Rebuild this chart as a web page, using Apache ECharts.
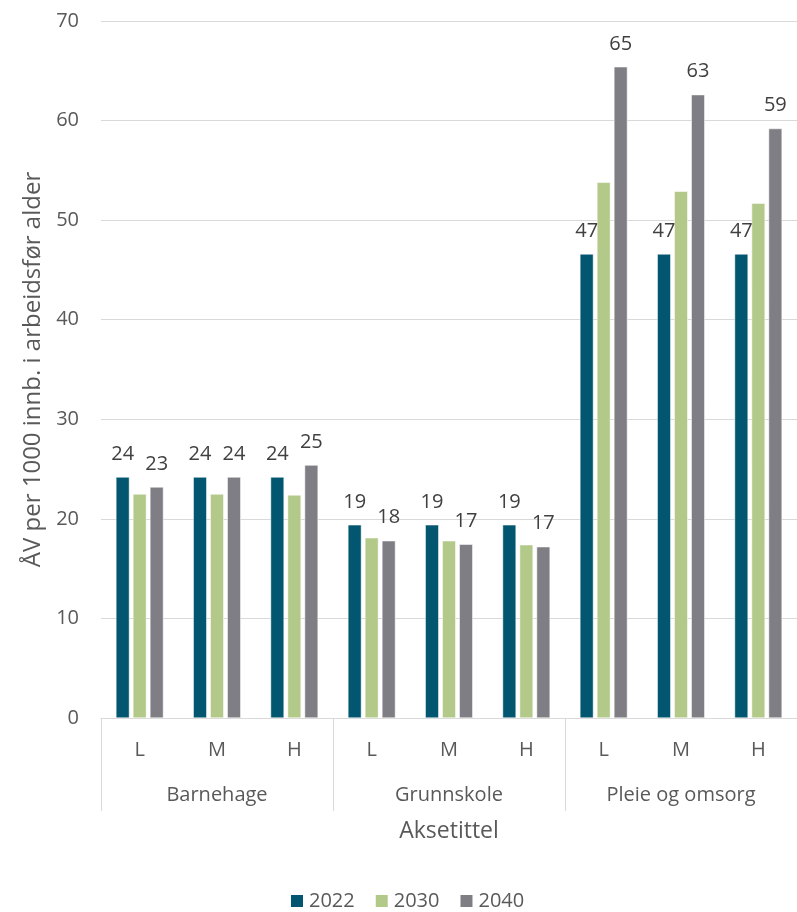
<!DOCTYPE html>
<html><head><meta charset="utf-8">
<script src="https://cdn.jsdelivr.net/npm/echarts@6/dist/echarts.min.js"></script>
<style>html,body{margin:0;padding:0;background:#fff}#c{width:797px;height:912px}</style>
</head><body><div id="c"></div>
<script>
const subCategories = ['L','M','H','L','M','H','L','M','H'];
const groups = ['Barnehage','Grunnskole','Pleie og omsorg'];
const seriesNames = ['2022','2030','2040'];
const values2022 = [24.2, 24.2, 24.2, 19.4, 19.4, 19.4, 46.6, 46.6, 46.6];
const values2030 = [22.5, 22.5, 22.4, 18.1, 17.8, 17.4, 53.8, 52.9, 51.7];
const values2040 = [23.2, 24.2, 25.4, 17.8, 17.45, 17.2, 65.4, 62.6, 59.2];
const yTicks = {min: 0, max: 70, interval: 10};
const yTitle = 'ÅV per 1000 innb. i arbeidsfør alder';
const xTitle = 'Aksetittel';

const FONT = '"Open Sans", sans-serif';
const colors = ['#02566F', '#B3C98A', '#7F7E84'];
const lbl = {show: true, position: 'top', distance: 13, fontFamily: FONT, fontSize: 20, color: '#404040',
  formatter: p => Math.round(p.value)};
function mk(name, data, i, label) {
  return {name, type: 'bar', data, barWidth: 13.5, barGap: '26%', xAxisIndex: 0,
    itemStyle: {color: colors[i], borderColor: '#fff', borderWidth: 0.5},
    label: label ? lbl : {show: false}};
}
const chart = echarts.init(document.getElementById('c'), null, {renderer: 'canvas'});
chart.setOption({
  animation: false,
  grid: {left: 101, top: 21, width: 699, height: 697},
  legend: {data: seriesNames, left: 284, top: 886, icon: 'rect', itemWidth: 14, itemHeight: 14, itemGap: 19,
    textStyle: {fontFamily: FONT, fontSize: 20, color: '#595959'}},
  xAxis: [
    {type: 'category', data: subCategories, position: 'bottom',
      axisLine: {show: true, lineStyle: {color: '#d9d9d9', width: 1}},
      axisTick: {show: false},
      axisLabel: {margin: 22, fontFamily: FONT, fontSize: 20, color: '#595959'}},
    {type: 'category', data: groups, position: 'bottom',
      axisLine: {show: false},
      axisTick: {show: true, length: 93, lineStyle: {color: '#d9d9d9', width: 1}},
      axisLabel: {margin: 67, fontFamily: FONT, fontSize: 20, color: '#595959'},
      name: xTitle, nameLocation: 'middle', nameGap: 102,
      nameTextStyle: {fontFamily: FONT, fontSize: 23, color: '#595959'}}
  ],
  yAxis: {type: 'value', min: yTicks.min, max: yTicks.max, interval: yTicks.interval,
    axisLine: {show: false}, axisTick: {show: false},
    splitLine: {lineStyle: {color: '#d9d9d9', width: 1}},
    axisLabel: {margin: 22, fontFamily: FONT, fontSize: 20, color: '#595959'},
    name: yTitle, nameLocation: 'middle', nameGap: 54, nameRotate: 90,
    nameTextStyle: {fontFamily: FONT, fontSize: 24, color: '#595959'}},
  series: [
    mk(seriesNames[0], values2022, 0, true),
    mk(seriesNames[1], values2030, 1, false),
    mk(seriesNames[2], values2040, 2, true)
  ]
});
</script></body></html>
